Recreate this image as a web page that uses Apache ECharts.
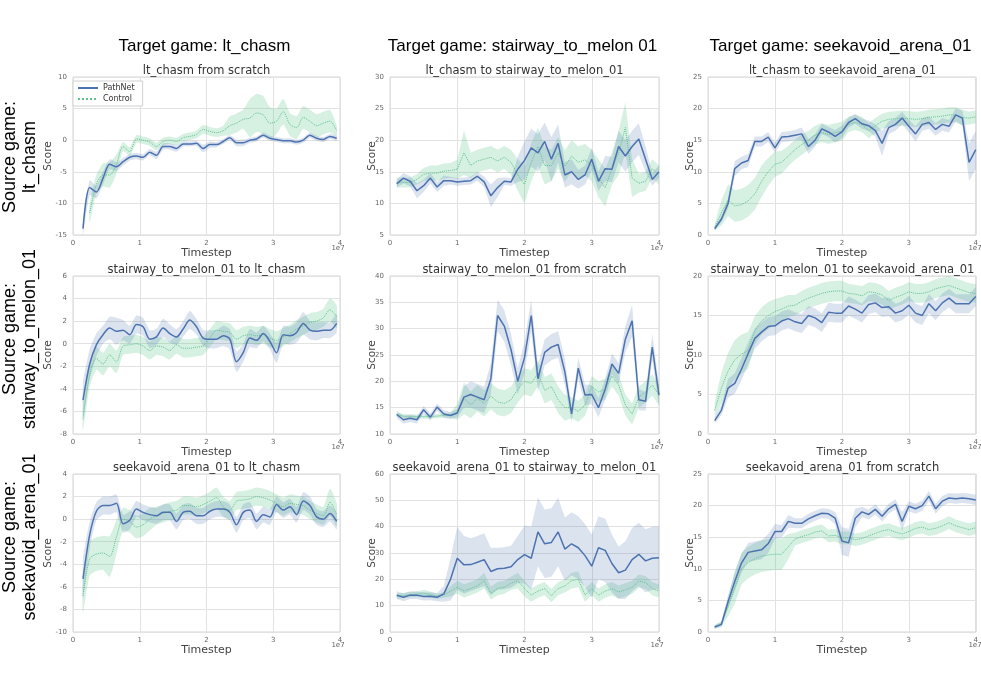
<!DOCTYPE html>
<html>
<head>
<meta charset="utf-8">
<script src="https://cdn.jsdelivr.net/npm/echarts@6/dist/echarts.min.js"></script>
<style>
html, body { margin: 0; padding: 0; background: #fff; }
#main { width: 981px; height: 693px; }
</style>
</head>
<body>
<div id="main"></div>
<script>
// sample times, in units of 1e7 steps
var t15 = [0.15,0.25,0.35,0.45,0.55,0.65,0.75,0.85,0.95,1.05,1.15,1.25,1.35,1.45,1.55,1.65,1.75,1.85,1.95,2.05,
           2.15,2.25,2.35,2.45,2.55,2.65,2.75,2.85,2.95,3.05,3.15,3.25,3.35,3.45,3.55,3.65,3.75,3.85,3.95];
var t10 = [0.1,0.2,0.3,0.4,0.5,0.6,0.7,0.8,0.9,1.0,1.1,1.2,1.3,1.4,1.5,1.6,1.7,1.8,1.9,2.0,
           2.1,2.2,2.3,2.4,2.5,2.6,2.7,2.8,2.9,3.0,3.1,3.2,3.3,3.4,3.5,3.6,3.7,3.8,3.9,4.0];

// lt_chasm from scratch
var p1Path    = [-14,-7.5,-8.2,-6,-3.8,-4.2,-3.4,-2.7,-2.5,-2.7,-1.9,-2.4,-1.0,-1.0,-1.3,-0.6,-0.6,-0.5,-1.3,-0.7,-0.7,-0.2,0.4,-0.4,-0.4,0.0,0.2,0.8,0.3,0.1,-0.1,-0.1,-0.3,0.0,0.8,0.3,0.1,0.6,0.3];
var p1PathErr = [1.0,1.2,1.0,1.0,0.8,0.7,0.6,0.5,0.5,0.5,0.5,0.6,0.5,0.5,0.5,0.4,0.4,0.4,0.6,0.5,0.4,0.4,0.4,0.5,0.5,0.4,0.4,0.4,0.4,0.4,0.4,0.4,0.4,0.4,0.4,0.4,0.4,0.4,0.4];
var p1Ctrl    = [null,-11.5,-7,-5.5,-5.5,-3.8,-1.0,-1.8,0.2,0.0,-0.3,-1.0,-0.2,0.0,-0.2,0.4,0.6,0.9,1.7,1.4,1.2,1.5,2.3,2.7,3.3,3.5,4.3,4.0,2.7,3.0,4.5,2.5,2.0,3.6,3.0,2.3,2.7,3.0,1.5];
var p1CtrlErr = [0,1.5,1.5,1.8,2.0,1.5,0.7,0.7,0.6,0.6,0.6,0.6,0.6,0.6,0.6,0.6,0.6,0.6,0.7,0.7,0.7,0.8,1.5,1.5,1.5,3.0,3.0,3.0,2.5,2.0,2.0,1.8,1.8,1.8,1.8,1.8,1.8,1.8,0.8];

// lt_chasm to stairway_to_melon_01
var p2Path    = [13.1,14.0,13.5,12.0,12.8,14.0,12.6,13.6,13.6,13.4,13.5,13.6,14.3,13.4,11.2,12.5,13.5,13.4,15.4,16.8,18.8,18.0,19.8,17.0,19.5,14.5,15.0,13.8,14.5,17.0,13.5,15.5,15.4,19.0,17.5,19.0,20.2,17.0,13.8,15.0];
var p2PathErr = [0.6,0.8,0.8,1.2,1.0,0.8,0.8,0.8,0.6,0.6,0.6,0.6,0.7,0.8,1.8,1.5,0.6,0.6,2.0,3.0,3.0,3.0,3.0,3.5,3.0,2.0,2.0,1.5,1.5,1.8,1.5,2.0,2.0,2.5,2.5,2.5,2.5,2.0,1.0,1.0];
var p2Ctrl    = [13.3,13.3,13.3,13.8,14.6,14.8,14.8,15.1,15.2,15.4,18.0,16.0,16.7,17.0,17.3,16.7,17.3,16.5,14.5,13.0,16.5,19.0,16.0,16.0,18.0,15.9,17.5,16.5,16.9,16.0,14.0,12.5,15.5,18.0,22.0,14.0,13.2,13.5,15.5,14.5];
var p2CtrlErr = [0.8,0.8,0.8,0.8,1.0,1.2,1.2,1.2,1.2,1.5,3.5,2.0,1.8,1.8,1.8,1.8,1.8,2.0,2.5,3.0,3.0,3.0,3.0,2.5,2.5,2.5,2.5,2.5,2.5,2.5,3.0,3.0,2.5,3.5,4.0,3.0,1.5,1.5,1.5,1.5];

// lt_chasm to seekavoid_arena_01
var p3Path    = [1.0,2.5,5.0,10.5,11.4,11.8,14.8,14.8,15.5,13.8,15.5,15.6,15.8,16.0,14.0,15.0,16.8,16.3,15.6,16.3,17.8,18.4,17.6,17.3,16.5,14.5,17.0,17.5,18.5,17.2,16.0,17.5,17.8,16.7,17.5,17.2,19.0,18.5,11.5,13.5];
var p3PathErr = [0.3,0.5,0.8,1.2,1.0,1.0,0.8,0.8,0.8,0.8,0.8,0.8,0.8,1.0,1.2,1.0,0.8,0.8,1.0,1.0,0.8,0.8,0.8,0.8,1.0,2.0,1.0,1.0,1.0,1.0,1.2,1.0,1.0,1.0,1.0,1.0,1.0,1.2,3.0,3.0];
var p3Ctrl    = [1.2,3.5,5.5,4.6,4.8,5.4,6.5,8.5,10.0,11.2,11.5,12.5,13.5,14.3,15.0,15.8,16.2,15.9,16.2,16.4,17.5,17.8,17.5,16.5,17.3,18.0,18.3,18.4,18.5,18.4,18.3,18.4,18.6,18.7,18.8,19.0,19.0,18.6,18.5,18.7];
var p3CtrlErr = [0.5,2.0,2.5,2.5,2.5,2.5,2.5,2.5,2.2,2.0,1.8,1.6,1.6,1.6,1.5,1.5,1.5,1.5,1.5,1.5,1.2,1.2,1.2,1.2,1.2,1.2,1.2,1.2,1.2,1.2,1.2,1.2,1.2,1.2,1.2,1.2,1.2,1.2,1.0,1.0];

// stairway_to_melon_01 to lt_chasm
var p4Path    = [-5.0,-1.8,-0.1,0.8,1.4,1.1,1.2,0.8,1.7,1.5,0.4,0.6,1.4,0.9,0.6,1.3,2.1,1.5,0.5,0.4,0.4,0.7,0.4,-1.6,-0.8,0.5,0.3,0.9,0.2,-0.8,0.8,0.7,1.0,1.8,1.2,1.1,1.2,1.2,1.8];
var p4PathErr = [1.5,1.3,1.0,0.8,1.0,1.2,0.9,0.8,0.8,0.8,0.8,0.7,0.8,0.8,0.7,0.7,0.8,0.7,0.7,0.8,0.8,0.9,0.9,0.9,0.8,0.8,0.7,0.7,0.7,0.9,0.8,0.8,0.9,1.0,0.8,0.8,0.7,0.7,0.8];
var p4Ctrl    = [-6.7,-2.8,-1.3,-1.8,-1.0,-1.6,-0.2,-0.1,0.0,-0.2,-0.6,-0.2,-0.3,-0.6,-0.1,-0.4,-0.4,-0.3,-0.2,0.5,1.2,1.1,1.0,0.4,0.7,0.8,0.7,0.8,0.5,0.3,0.6,0.9,1.3,1.6,1.9,2.0,2.3,3.0,2.4];
var p4CtrlErr = [1.0,1.0,1.0,1.0,1.0,1.0,0.8,0.8,0.8,0.8,0.8,0.8,0.8,0.8,0.8,0.8,0.8,0.8,0.8,0.8,0.8,0.8,0.8,0.8,0.8,0.8,0.8,0.8,0.8,0.8,0.8,0.8,0.8,0.8,0.8,0.8,0.8,1.0,1.0];

// stairway_to_melon_01 from scratch
var p5Path    = [13.7,12.7,13.0,12.7,14.6,13.2,15.1,13.8,13.5,14.0,17.0,17.5,17.0,16.5,20.5,32.5,30.5,26.0,20.0,24.5,32.5,20.5,25.5,26.5,27.0,21.8,13.8,22.5,17.4,17.5,15.0,18.5,23.3,21.5,28.0,31.5,16.5,16.2,26.5,17.4];
var p5PathErr = [0.7,0.7,0.7,0.7,0.7,0.7,0.7,0.7,0.7,0.8,2.0,2.5,2.5,2.5,3.0,3.0,3.0,3.0,2.5,3.0,3.0,2.5,2.5,2.5,2.5,2.5,1.5,2.0,2.0,1.8,1.8,2.0,2.0,2.0,2.5,3.0,2.0,1.8,2.5,2.0];
var p5Ctrl    = [13.7,13.4,13.3,13.3,13.3,13.3,13.4,13.5,13.6,14.2,16.8,15.5,16.8,15.8,17.2,16.1,15.8,16.5,18.5,20.0,19.6,21.5,18.3,19.0,16.5,15.0,15.0,14.3,15.5,19.0,18.0,18.5,21.0,19.3,15.5,13.8,17.0,18.0,19.3,17.4];
var p5CtrlErr = [0.4,0.4,0.4,0.4,0.4,0.4,0.4,0.4,0.5,1.5,3.0,2.5,2.5,2.5,2.5,2.5,2.5,2.5,2.5,2.5,2.5,2.5,2.5,2.5,2.5,2.5,2.0,2.0,2.0,2.0,2.0,2.0,2.0,2.0,2.0,2.0,2.0,2.0,2.0,2.0];

// stairway_to_melon_01 to seekavoid_arena_01
var p6Path    = [1.7,3.0,5.8,6.4,8.2,10.2,12.1,12.9,13.6,13.7,14.3,14.6,14.2,14.0,15.0,14.7,14.1,15.4,15.3,15.3,16.2,15.8,15.3,16.4,16.6,16.0,16.1,15.3,15.6,16.3,15.3,15.0,16.5,15.6,16.6,17.2,16.5,16.5,16.5,17.4];
var p6PathErr = [0.4,0.6,1.2,1.3,1.4,1.4,1.3,1.2,1.2,1.2,1.2,1.2,1.2,1.2,1.2,1.2,1.2,1.2,1.2,1.2,1.2,1.2,1.2,1.2,1.2,1.2,1.2,1.2,1.2,1.2,1.2,1.2,1.2,1.2,1.2,1.2,1.2,1.2,1.2,1.2];
var p6Ctrl    = [3.0,5.8,8.0,9.4,10.1,10.6,13.1,14.3,15.0,15.5,15.8,16.2,16.3,16.8,17.2,17.5,17.8,18.0,18.1,18.1,17.8,17.7,17.5,18.0,17.9,17.6,16.9,17.3,17.6,18.0,17.8,17.8,18.0,18.4,18.6,18.8,18.5,18.2,17.9,17.8];
var p6CtrlErr = [1.0,2.0,2.3,2.5,2.5,2.3,1.8,1.7,1.7,1.6,1.5,1.4,1.3,1.3,1.3,1.3,1.3,1.3,1.3,1.3,1.2,1.2,1.2,1.2,1.2,1.2,1.2,1.2,1.2,1.2,1.2,1.2,1.2,1.2,1.2,1.2,1.2,1.2,1.2,1.2];

// seekavoid_arena_01 to lt_chasm
var p7Path    = [-5.3,-1.4,0.7,1.2,1.2,1.4,-0.4,-0.1,0.9,0.6,0.4,0.3,0.6,0.6,-0.2,0.6,0.7,0.3,0.3,0.7,0.9,0.9,0.6,-0.5,0.6,0.8,-0.2,0.4,0.2,1.3,0.8,1.1,0.4,1.6,1.2,0.2,0.0,0.5,-0.2];
var p7PathErr = [1.8,1.2,0.8,0.8,0.8,0.8,0.8,0.8,0.7,0.7,0.7,0.7,0.7,0.7,0.7,0.7,0.7,0.7,0.7,0.7,0.7,0.7,0.7,0.7,0.7,0.7,0.7,0.7,0.7,0.7,0.7,0.7,0.7,0.8,0.8,0.7,0.7,0.7,0.7];
var p7Ctrl    = [-6.8,-3.5,-3.1,-3.0,-3.3,-1.6,0.0,-0.2,-0.7,-0.5,0.0,0.3,0.5,0.7,0.8,1.2,1.2,1.1,1.3,1.6,1.9,1.1,0.8,1.6,1.7,1.8,2.0,1.9,1.7,1.4,1.1,1.4,1.3,1.2,0.8,0.5,0.3,1.5,0.4];
var p7CtrlErr = [1.5,1.5,1.5,1.5,1.8,1.5,1.0,1.0,1.0,1.0,1.0,0.8,0.8,0.8,0.8,0.8,0.8,0.8,0.8,0.8,0.9,0.9,0.8,0.8,0.8,0.8,0.8,0.8,0.8,0.8,0.8,0.8,0.8,0.8,0.8,0.8,0.8,1.2,1.0];

// seekavoid_arena_01 to stairway_to_melon_01
var p8Path    = [14.0,13.2,14.0,14.0,13.5,13.6,13.2,14.5,20.0,28.0,25.5,25.6,26.5,27.5,23.0,24.0,24.2,24.8,27.5,29.4,28.0,38.0,33.5,34.0,38.0,31.5,33.5,32.0,29.0,25.0,32.0,31.0,26.0,22.5,23.5,27.5,29.5,27.0,28.0,28.2];
var p8PathErr = [1.5,1.5,1.5,1.5,1.5,1.5,1.5,3.0,8.0,12.0,11.0,10.0,10.0,10.0,9.0,8.0,8.0,8.0,9.0,11.0,12.0,13.0,13.0,13.0,13.0,12.0,12.0,12.0,12.0,12.0,12.0,12.0,11.0,10.0,11.0,12.0,12.0,12.0,12.0,12.0];
var p8Ctrl    = [13.6,13.8,14.2,14.3,14.8,14.2,13.6,14.0,15.5,17.0,15.6,16.5,17.5,19.5,14.8,16.5,17.0,18.5,19.5,16.5,14.0,15.5,16.5,13.8,16.5,17.5,19.5,20.0,14.0,16.5,14.0,15.5,16.5,15.2,16.0,17.0,19.3,18.8,16.5,15.5];
var p8CtrlErr = [1.0,1.0,1.0,1.0,1.2,1.2,1.0,1.0,2.0,2.5,2.5,2.5,2.5,3.0,2.5,2.5,2.5,2.5,3.0,3.0,2.5,2.5,2.5,2.5,2.5,2.5,3.0,3.0,2.5,2.5,2.5,2.5,2.5,2.5,2.5,2.5,2.5,2.5,2.5,2.5];

// seekavoid_arena_01 from scratch
var p9Path    = [0.8,1.2,4.8,8.0,10.9,12.6,12.8,13.0,14.0,15.9,15.9,17.5,17.2,17.2,17.9,18.4,18.8,18.7,18.0,14.4,14.1,18.0,19.0,18.6,19.4,18.3,19.5,20.2,17.5,19.9,19.5,20.0,21.5,19.5,20.7,21.2,21.1,21.2,21.1,20.9];
var p9PathErr = [0.3,0.4,1.0,1.5,1.5,1.5,1.5,1.5,1.5,1.2,1.0,1.0,0.8,0.8,0.8,0.8,0.8,0.8,1.0,2.2,2.2,1.5,0.8,0.8,0.8,0.8,0.8,0.8,1.5,0.8,0.8,0.8,0.8,0.8,0.8,0.8,0.8,0.8,0.8,0.8];
var p9Ctrl    = [0.8,1.3,4.0,7.0,10.0,11.0,11.6,12.0,12.2,12.3,12.3,13.5,14.7,15.1,15.4,15.8,16.0,15.2,15.3,14.9,14.9,14.6,14.8,15.2,15.6,16.0,16.2,15.8,15.5,15.9,16.4,16.6,16.2,16.4,16.8,17.3,16.8,16.5,16.2,16.5];
var p9CtrlErr = [0.3,0.4,1.5,2.5,2.5,2.5,2.5,2.5,2.5,2.5,2.5,2.0,1.0,1.0,1.0,1.0,1.0,1.0,1.0,1.0,1.0,1.0,1.0,1.0,1.0,1.0,1.0,1.0,1.0,1.0,1.0,1.0,1.0,1.0,1.0,1.0,1.0,1.0,1.0,1.0];

var targetGames = ['Target game: lt_chasm', 'Target game: stairway_to_melon 01', 'Target game: seekavoid_arena_01'];
var sourceGames = ['Source game:\nlt_chasm', 'Source game:\nstairway_to_melon_01', 'Source game:\nseekavoid_arena_01'];

var panels = [
  { title: 'lt_chasm from scratch', t: t15, path: p1Path, pathErr: p1PathErr, ctrl: p1Ctrl, ctrlErr: p1CtrlErr, min: -15, max: 10, step: 5 },
  { title: 'lt_chasm to stairway_to_melon_01', t: t10, path: p2Path, pathErr: p2PathErr, ctrl: p2Ctrl, ctrlErr: p2CtrlErr, min: 5, max: 30, step: 5 },
  { title: 'lt_chasm to seekavoid_arena_01', t: t10, path: p3Path, pathErr: p3PathErr, ctrl: p3Ctrl, ctrlErr: p3CtrlErr, min: 0, max: 25, step: 5 },
  { title: 'stairway_to_melon_01 to lt_chasm', t: t15, path: p4Path, pathErr: p4PathErr, ctrl: p4Ctrl, ctrlErr: p4CtrlErr, min: -8, max: 6, step: 2 },
  { title: 'stairway_to_melon_01 from scratch', t: t10, path: p5Path, pathErr: p5PathErr, ctrl: p5Ctrl, ctrlErr: p5CtrlErr, min: 10, max: 40, step: 5 },
  { title: 'stairway_to_melon_01 to seekavoid_arena_01', t: t10, path: p6Path, pathErr: p6PathErr, ctrl: p6Ctrl, ctrlErr: p6CtrlErr, min: 0, max: 20, step: 5 },
  { title: 'seekavoid_arena_01 to lt_chasm', t: t15, path: p7Path, pathErr: p7PathErr, ctrl: p7Ctrl, ctrlErr: p7CtrlErr, min: -10, max: 4, step: 2 },
  { title: 'seekavoid_arena_01 to stairway_to_melon_01', t: t10, path: p8Path, pathErr: p8PathErr, ctrl: p8Ctrl, ctrlErr: p8CtrlErr, min: 0, max: 60, step: 10 },
  { title: 'seekavoid_arena_01 from scratch', t: t10, path: p9Path, pathErr: p9PathErr, ctrl: p9Ctrl, ctrlErr: p9CtrlErr, min: 0, max: 25, step: 5 }
];

var colLeft = [73, 390, 708], colWidth = [267, 269, 269];
var rowTop = [77, 276, 474], rowHeight = 158;
var blue = '#4c72b0', green = '#5cc48c';
var plotFont = '"DejaVu Sans", sans-serif';
var headFont = '"Liberation Sans", Arial, sans-serif';

var myChart = echarts.init(document.getElementById('main'));

var grids = [], xAxes = [], yAxes = [], series = [], graphics = [];

// shaded band mean +/- err, drawn as one polygon through the axis scales
function band(i, t, mean, err, color, opacity, smooth) {
  var rows = [];
  for (var k = 0; k < t.length; k++) {
    if (mean[k] != null) rows.push([t[k], mean[k] - err[k], mean[k] + err[k]]);
  }
  return {
    type: 'custom', xAxisIndex: i, yAxisIndex: i, silent: true, clip: true,
    data: rows, encode: { x: 0, y: [1, 2] },
    renderItem: function (params, api) {
      if (params.dataIndex !== 0) return null;
      var pts = [];
      for (var a = 0; a < rows.length; a++) pts.push(api.coord([rows[a][0], rows[a][2]]));
      for (var b = rows.length - 1; b >= 0; b--) pts.push(api.coord([rows[b][0], rows[b][1]]));
      return { type: 'polygon', shape: { points: pts, smooth: smooth ? 0.2 : 0 }, style: { fill: color, opacity: opacity } };
    }
  };
}

function pairs(t, v) {
  return t.map(function (x, k) { return [x, v[k] == null ? '-' : v[k]]; });
}

panels.forEach(function (p, i) {
  var col = i % 3, row = Math.floor(i / 3);
  var left = colLeft[col], top = rowTop[row], w = colWidth[col];
  var smooth = col === 0;   // the lt_chasm curves are smoothed in the source

  grids.push({ left: left, top: top, width: w, height: rowHeight, show: true,
    borderColor: '#d4d4d4', borderWidth: 1, backgroundColor: '#fff' });

  xAxes.push({ type: 'value', gridIndex: i, min: 0, max: 4, interval: 1,
    axisLine: { show: false }, axisTick: { show: false },
    splitLine: { lineStyle: { color: '#e2e2e2', width: 1 } },
    axisLabel: { fontSize: 7, color: '#666', margin: 5, fontFamily: plotFont },
    name: 'Timestep', nameLocation: 'middle', nameGap: 13, nameMoveOverlap: false,
    nameTextStyle: { fontSize: 11, color: '#444', fontFamily: plotFont } });

  yAxes.push({ type: 'value', gridIndex: i, min: p.min, max: p.max, interval: p.step,
    axisLine: { show: false }, axisTick: { show: false },
    splitLine: { lineStyle: { color: '#e2e2e2', width: 1 } },
    axisLabel: { fontSize: 7, color: '#666', margin: 6, fontFamily: plotFont, showMinLabel: true, showMaxLabel: true },
    name: 'Score', nameLocation: 'middle', nameGap: col === 0 ? 19 : 12, nameMoveOverlap: false,
    nameTextStyle: { fontSize: 10.5, color: '#444', fontFamily: plotFont } });

  series.push(band(i, p.t, p.ctrl, p.ctrlErr, green, 0.25, smooth));
  series.push(band(i, p.t, p.path, p.pathErr, blue, 0.2, smooth));
  series.push({ name: 'Control', type: 'line', xAxisIndex: i, yAxisIndex: i, data: pairs(p.t, p.ctrl),
    symbol: 'none', smooth: smooth ? 0.3 : false,
    lineStyle: { color: green, width: 1, type: 'dotted' }, itemStyle: { color: green } });
  series.push({ name: 'PathNet', type: 'line', xAxisIndex: i, yAxisIndex: i, data: pairs(p.t, p.path),
    symbol: 'none', smooth: smooth ? 0.3 : false,
    lineStyle: { color: blue, width: 1.5 }, itemStyle: { color: blue } });

  // panel title
  graphics.push({ type: 'text', x: left + w / 2, y: top - 6,
    style: { text: p.title, fontSize: 11.5, fontFamily: plotFont, fill: '#333', align: 'center', verticalAlign: 'middle' } });
  // axis offset label
  graphics.push({ type: 'text', x: left + w - 2, y: top + rowHeight + 13,
    style: { text: '1e7', fontSize: 7, fontFamily: plotFont, fill: '#666', align: 'center', verticalAlign: 'middle' } });
});

targetGames.forEach(function (txt, c) {
  graphics.push({ type: 'text', x: colLeft[c] + colWidth[c] / 2 - 2, y: 46,
    style: { text: txt, fontSize: 17, fontFamily: headFont, fill: '#000', align: 'center', verticalAlign: 'middle' } });
});

var rowLabelY = [157, 339, 537];
sourceGames.forEach(function (txt, r) {
  graphics.push({ type: 'text', x: 20, y: rowLabelY[r], rotation: Math.PI / 2,
    style: { text: txt, fontSize: 18, lineHeight: 20, fontFamily: headFont, fill: '#000', align: 'center', verticalAlign: 'middle' } });
});

var option = {
  backgroundColor: '#fff',
  animation: false,
  grid: grids,
  xAxis: xAxes,
  yAxis: yAxes,
  legend: {
    data: ['PathNet', 'Control'], orient: 'vertical', left: 73, top: 81,
    itemWidth: 20, itemHeight: 8, itemGap: 3, padding: [3, 8, 3, 4],
    borderColor: '#d0d0d0', borderWidth: 1, backgroundColor: '#fff',
    itemStyle: { opacity: 0 },
    textStyle: { fontSize: 8, color: '#333', fontFamily: plotFont }
  },
  series: series,
  graphic: graphics
};

myChart.setOption(option);
</script>
</body>
</html>
